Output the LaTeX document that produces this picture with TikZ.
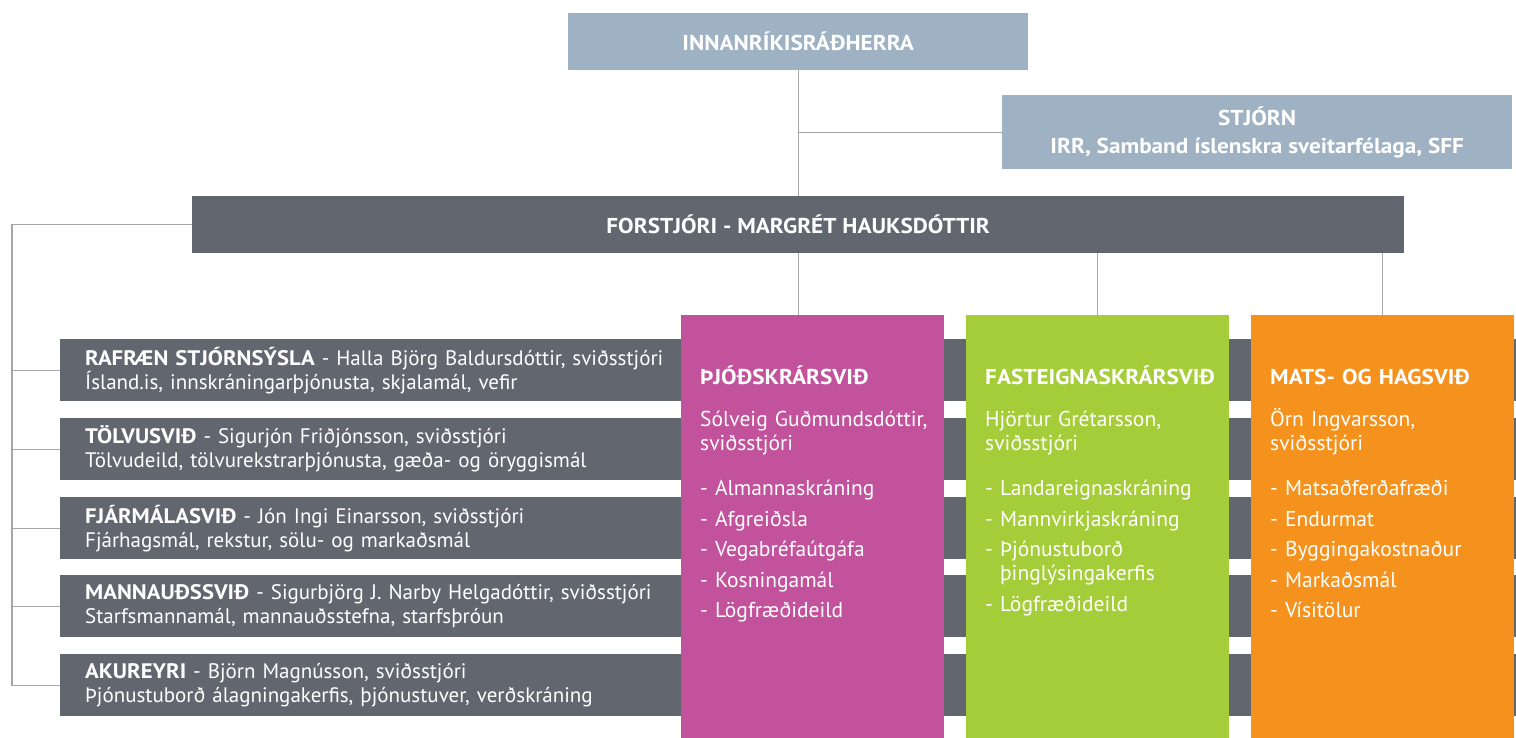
\documentclass[tikz,border=0pt]{standalone}
\usepackage{fontspec}
\setmainfont{PT Sans}[BoldFeatures={FakeStretch=1.08}]
\usetikzlibrary{positioning}
\definecolor{topblue}{HTML}{9EB2C3}
\definecolor{bargray}{HTML}{62666E}
\definecolor{linegray}{HTML}{A6A6A6}
\definecolor{pjcol}{HTML}{C2529B}
\definecolor{facol}{HTML}{A5CD39}
\definecolor{macol}{HTML}{F5921E}
\tikzset{
  hbox/.style={fill=#1, text=white, inner sep=0pt, anchor=north west, align=center,
    font=\fontsize{21.5}{28}\selectfont\bfseries},
  bar/.style={fill=bargray, text=white, anchor=north west, minimum width=1456pt,
    minimum height=62pt, text width=1406pt, inner xsep=25pt, inner ysep=0pt, align=left,
    font=\fontsize{21}{24}\selectfont},
  colbox/.style={fill=#1, anchor=north west, inner sep=0pt, minimum width=263pt, minimum height=423pt},
  coltext/.style={text=white, inner sep=0pt, text width=242pt, align=left,
    font=\fontsize{21.5}{24}\selectfont, execute at begin node={\vphantom{Ó}}},
  link/.style={draw=linegray, line width=1.2pt}
}

\begin{document}
\begin{tikzpicture}[x=1pt,y=-1pt]
\useasboundingbox (0,0) rectangle (1516,738);

% top of the chart
\node[hbox=topblue, minimum width=460pt, minimum height=57pt] (irr) at (568,13) {INNANRÍKISRÁÐHERRA};
\node[hbox=topblue, minimum width=510pt, minimum height=74pt] (board) at (1002,95)
  {STJÓRN\\IRR, Samband íslenskra sveitarfélaga, SFF};
\node[hbox=bargray, minimum width=1212pt, minimum height=57pt] (ceo) at (192,196)
  {FORSTJÓRI - MARGRÉT HAUKSDÓTTIR};

\draw[link] (irr.south) -- (ceo.north);
\draw[link] (board.west) -- (board.west -| irr.south);

% departments on the left
\node[bar] (b1) at (60,339) {\textbf{RAFRÆN STJÓRNSÝSLA} - Halla Björg Baldursdóttir, sviðsstjóri\\Ísland.is, innskráningarþjónusta, skjalamál, vefir};
\node[bar] (b2) at (60,418) {\textbf{TÖLVUSVIÐ} - Sigurjón Friðjónsson, sviðsstjóri\\Tölvudeild, tölvurekstrarþjónusta, gæða- og öryggismál};
\node[bar] (b3) at (60,497) {\textbf{FJÁRMÁLASVIÐ} - Jón Ingi Einarsson, sviðsstjóri\\Fjárhagsmál, rekstur, sölu- og markaðsmál};
\node[bar] (b4) at (60,575) {\textbf{MANNAUÐSSVIÐ} - Sigurbjörg J. Narby Helgadóttir, sviðsstjóri\\Starfsmannamál, mannauðsstefna, starfsþróun};
\node[bar] (b5) at (60,654) {\textbf{AKUREYRI} - Björn Magnússon, sviðsstjóri\\Þjónustuborð álagningakerfis, þjónustuver, verðskráning};

\coordinate (spine) at (12,0);
\draw[link] (ceo.west) -| (spine |- b5.west) -- (b5.west);
\draw[link] (b1.west) -- (b1.west -| spine);
\draw[link] (b2.west) -- (b2.west -| spine);
\draw[link] (b3.west) -- (b3.west -| spine);
\draw[link] (b4.west) -- (b4.west -| spine);

% core divisions
\node[colbox=pjcol] (pj) at (681,315) {};
\node[colbox=facol] (fa) at (966,315) {};
\node[colbox=macol] (ma) at (1251,315) {};

\draw[link] (ceo.south) -- (ceo.south |- pj.north);
\draw[link] (ceo.south -| fa.north) -- (fa.north);
\draw[link] (ceo.south -| ma.north) -- (ma.north);

\node[coltext, below right=51pt and 19pt of pj.north west] (pjtext) {\textbf{ÞJÓÐSKRÁRSVIÐ}\\[18pt]
  Sólveig Guðmundsdóttir,\\sviðsstjóri\\[21pt]
  - Almannaskráning\\[6.5pt]
  - Afgreiðsla\\[6.5pt]
  - Vegabréfaútgáfa\\[6.5pt]
  - Kosningamál\\[6.5pt]
  - Lögfræðideild};
\node[coltext, below right=51pt and 19pt of fa.north west] (fatext) {\textbf{FASTEIGNASKRÁRSVIÐ}\\[18pt]
  Hjörtur Grétarsson,\\sviðsstjóri\\[21pt]
  - Landareignaskráning\\[6.5pt]
  - Mannvirkjaskráning\\[6.5pt]
  - Þjónustuborð\\\phantom{- }þinglýsingakerfis\\[6.5pt]
  - Lögfræðideild};
\node[coltext, below right=51pt and 19pt of ma.north west] (matext) {\textbf{MATS- OG HAGSVIÐ}\\[18pt]
  Örn Ingvarsson,\\sviðsstjóri\\[21pt]
  - Matsaðferðafræði\\[6.5pt]
  - Endurmat\\[6.5pt]
  - Byggingakostnaður\\[6.5pt]
  - Markaðsmál\\[6.5pt]
  - Vísitölur};
\end{tikzpicture}
\end{document}
